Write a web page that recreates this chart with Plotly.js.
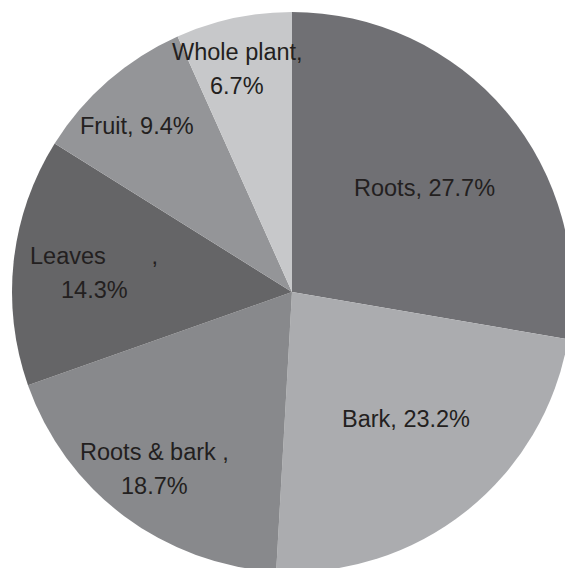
<!DOCTYPE html>
<html>
<head>
<meta charset="utf-8">
<script src="https://cdn.plot.ly/plotly-3.0.1.min.js"></script>
<style>
html,body{margin:0;padding:0;overflow:hidden;background:#fff;width:565px;height:568px;}
#chart{width:584px;height:584px;}
</style>
</head>
<body>
<div id="chart"></div>
<script>
const categories = ["Roots", "Bark", "Roots & bark", "Leaves", "Fruit", "Whole plant"];
const shares = [27.7, 23.2, 18.7, 14.3, 9.4, 6.7];
const labelLines = [
  ["Roots, 27.7%"],
  ["Bark, 23.2%"],
  ["Roots & bark ,", "18.7%"],
  ["Leaves\u00A0\u00A0\u00A0\u00A0\u00A0\u00A0\u00A0,", "14.3%"],
  ["Fruit, 9.4%"],
  ["Whole plant,", "6.7%"]
];
const sliceColors = ["#707074", "#abacaf", "#88898c", "#656567", "#949598", "#c7c8ca"];

// label placement (layout only): radial fraction and angular nudge in degrees
const labelRadius = [0.60, 0.61, 0.80, 0.71, 0.81, 0.82];
const labelNudge = [2, -3.4, 1, -0.7, -1.9, -1.7];

const W = 584, H = 584, M = 12;
const lineGap = 34;

const total = shares.reduce((a, b) => a + b, 0);
const annotations = [];
let cum = 0;
shares.forEach((v, i) => {
  const mid = (cum + v / 2) / total * 360 + labelNudge[i];
  cum += v;
  const rad = mid * Math.PI / 180;
  const r = labelRadius[i] * 0.5;
  const x = 0.5 + r * Math.sin(rad);
  const y = 0.5 + r * Math.cos(rad);
  const lines = labelLines[i];
  const n = lines.length;
  lines.forEach((t, j) => {
    annotations.push({
      xref: "paper", yref: "paper", x: x, y: y,
      xanchor: "center", yanchor: "middle",
      yshift: ((n - 1) / 2 - j) * lineGap,
      text: t, showarrow: false,
      font: {family: "Liberation Sans, Arial, sans-serif", size: 23.5, color: "#231f20"}
    });
  });
});

const trace = {
  type: "pie",
  labels: categories,
  values: shares,
  textinfo: "none",
  sort: false,
  direction: "clockwise",
  rotation: 0,
  marker: {colors: sliceColors, line: {width: 0}},
  hoverinfo: "none",
  showlegend: false
};

const layout = {
  width: W,
  height: H,
  margin: {l: M, r: M, t: M, b: M},
  paper_bgcolor: "#ffffff",
  showlegend: false,
  annotations: annotations
};

Plotly.newPlot("chart", [trace], layout, {staticPlot: true, displayModeBar: false});
</script>
</body>
</html>
